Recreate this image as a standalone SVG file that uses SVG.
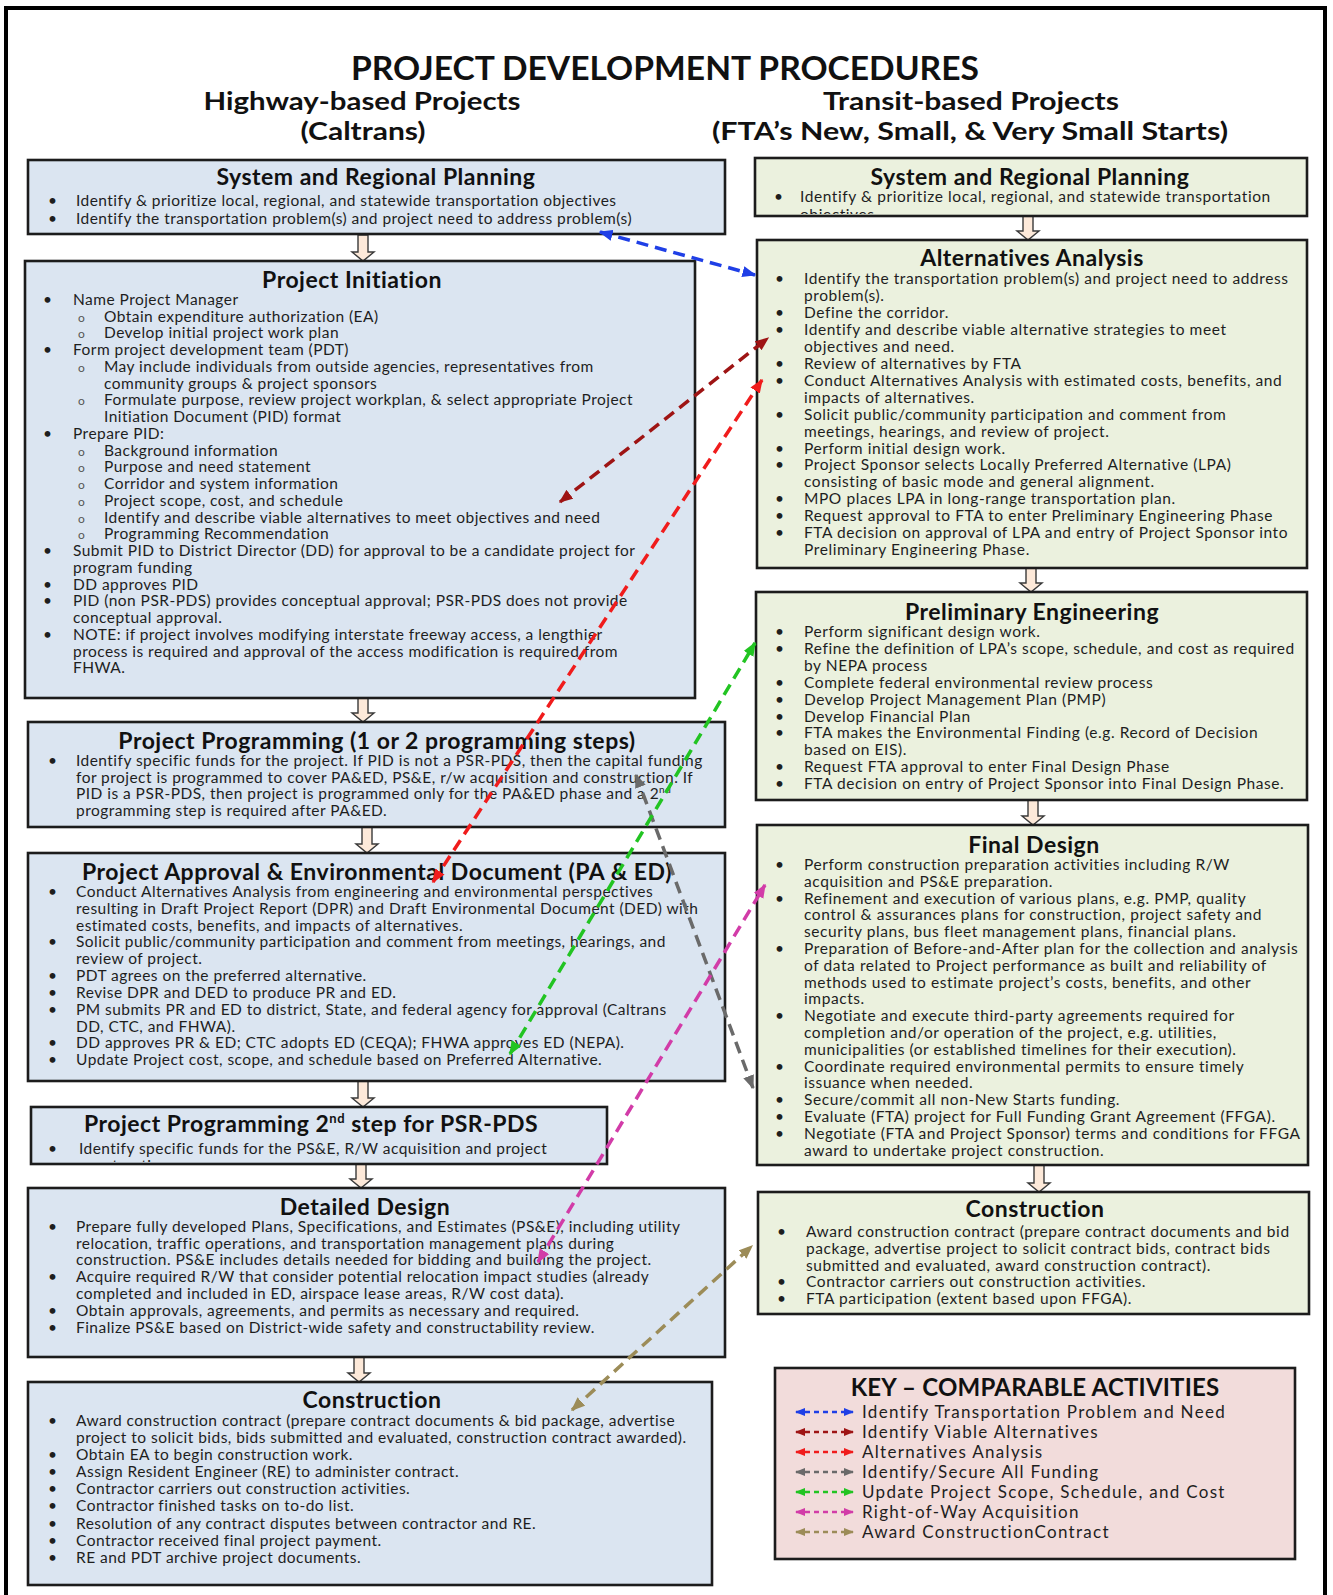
<svg xmlns="http://www.w3.org/2000/svg" width="1333" height="1595" viewBox="0 0 1333 1595">
<style>
.frame{fill:#fff;stroke:#000;stroke-width:4}
.bl{fill:#dbe5f1;stroke:#1c1c1c;stroke-width:2.6}
.gr{fill:#ebf1de;stroke:#1c1c1c;stroke-width:2.6}
.pk{fill:#f2dcdb;stroke:#1c1c1c;stroke-width:2.6}
.dn{fill:#fde9d9;stroke:#3a3a3a;stroke-width:1.4}
text{font-family:Lato,"Liberation Sans",sans-serif;fill:#1e1e1e}
.hd{font-weight:700;fill:#111}
.bt{font-weight:700;font-size:23px;letter-spacing:0.5px;text-anchor:middle;fill:#111}
.l{font-size:15.5px;letter-spacing:0.46px}
.r{font-size:15.5px;letter-spacing:0.58px}
.o{font-size:12px;fill:#555}
.k{font-size:17px;letter-spacing:1.3px}
.c{fill:none;stroke-width:3.5;stroke-dasharray:12 7}
.ck{fill:none;stroke-width:2.6;stroke-dasharray:5 4}
</style>
<defs>
<marker id="mb" viewBox="0 0 10 8" refX="9" refY="4" markerWidth="4" markerHeight="3.4" orient="auto-start-reverse"><path d="M0,0 L10,4 L0,8 z" fill="#1f3fe6"/></marker>
<marker id="mdr" viewBox="0 0 10 8" refX="9" refY="4" markerWidth="4" markerHeight="3.4" orient="auto-start-reverse"><path d="M0,0 L10,4 L0,8 z" fill="#9e1414"/></marker>
<marker id="mr" viewBox="0 0 10 8" refX="9" refY="4" markerWidth="4" markerHeight="3.4" orient="auto-start-reverse"><path d="M0,0 L10,4 L0,8 z" fill="#f01c1c"/></marker>
<marker id="mg" viewBox="0 0 10 8" refX="9" refY="4" markerWidth="4" markerHeight="3.4" orient="auto-start-reverse"><path d="M0,0 L10,4 L0,8 z" fill="#6a6a6a"/></marker>
<marker id="mgn" viewBox="0 0 10 8" refX="9" refY="4" markerWidth="4" markerHeight="3.4" orient="auto-start-reverse"><path d="M0,0 L10,4 L0,8 z" fill="#22c422"/></marker>
<marker id="mm" viewBox="0 0 10 8" refX="9" refY="4" markerWidth="4" markerHeight="3.4" orient="auto-start-reverse"><path d="M0,0 L10,4 L0,8 z" fill="#d23ca8"/></marker>
<marker id="mo" viewBox="0 0 10 8" refX="9" refY="4" markerWidth="4" markerHeight="3.4" orient="auto-start-reverse"><path d="M0,0 L10,4 L0,8 z" fill="#9c8c58"/></marker>
<clipPath id="clipSR"><rect x="756" y="160" width="550" height="54"/></clipPath>
<clipPath id="clipP2"><rect x="32" y="1108" width="574" height="54"/></clipPath>
</defs>

<rect class="frame" x="6" y="8" width="1319" height="1592"/>

<g id="header">
<text class="hd" x="665" y="80" font-size="32" text-anchor="middle" textLength="628" lengthAdjust="spacingAndGlyphs">PROJECT DEVELOPMENT PROCEDURES</text>
<text class="hd" x="362" y="110" font-size="25" text-anchor="middle" textLength="317" lengthAdjust="spacingAndGlyphs">Highway-based Projects</text>
<text class="hd" x="363" y="140" font-size="25" text-anchor="middle" textLength="125" lengthAdjust="spacingAndGlyphs">(Caltrans)</text>
<text class="hd" x="971" y="110" font-size="25" text-anchor="middle" textLength="296" lengthAdjust="spacingAndGlyphs">Transit-based Projects</text>
<text class="hd" x="970" y="140" font-size="25" text-anchor="middle" textLength="516" lengthAdjust="spacingAndGlyphs">(FTA’s New, Small, &amp; Very Small Starts)</text>
</g>

<g id="flow-arrows">
<path class="dn" d="M358,235 H368 V252 H374 L363,261 L352,252 H358 Z"/>
<path class="dn" d="M358,698 H368 V713 H374 L363,722 L352,713 H358 Z"/>
<path class="dn" d="M362,827 H372 V844 H378 L367,853 L356,844 H362 Z"/>
<path class="dn" d="M358,1081 H368 V1098 H374 L363,1107 L352,1098 H358 Z"/>
<path class="dn" d="M356,1164 H366 V1179 H372 L361,1188 L350,1179 H356 Z"/>
<path class="dn" d="M354,1357 H364 V1373 H370 L359,1382 L348,1373 H354 Z"/>
<path class="dn" d="M1023,216 H1033 V231 H1039 L1028,240 L1017,231 H1023 Z"/>
<path class="dn" d="M1026,568 H1036 V583 H1042 L1031,592 L1020,583 H1026 Z"/>
<path class="dn" d="M1028,800 H1038 V816 H1044 L1033,825 L1022,816 H1028 Z"/>
<path class="dn" d="M1034,1165 H1044 V1183 H1050 L1039,1192 L1028,1183 H1034 Z"/>
</g>

<g id="srp-left">
<rect class="bl" x="28" y="160" width="697" height="74"/>
<text class="bt" x="376" y="185">System and Regional Planning</text>
<text class="l" x="48" y="206">•</text><text class="l" x="76" y="206">Identify &amp; prioritize local, regional, and statewide transportation objectives</text>
<text class="l" x="48" y="224">•</text><text class="l" x="76" y="224">Identify the transportation problem(s) and project need to address problem(s)</text>
</g>

<g id="project-initiation">
<rect class="bl" x="25" y="261" width="670" height="437"/>
<text class="bt" x="352" y="288">Project Initiation</text>
<text class="l" x="43" y="305">•</text><text class="l" x="73" y="305">Name Project Manager</text>
<text class="o" x="78" y="322">o</text><text class="l" x="104" y="322">Obtain expenditure authorization (EA)</text>
<text class="o" x="78" y="338">o</text><text class="l" x="104" y="338">Develop initial project work plan</text>
<text class="l" x="43" y="355">•</text><text class="l" x="73" y="355">Form project development team (PDT)</text>
<text class="o" x="78" y="372">o</text><text class="l" x="104" y="372">May include individuals from outside agencies, representatives from</text>
<text class="l" x="104" y="389">community groups &amp; project sponsors</text>
<text class="o" x="78" y="405">o</text><text class="l" x="104" y="405">Formulate purpose, review project workplan, &amp; select appropriate Project</text>
<text class="l" x="104" y="422">Initiation Document (PID) format</text>
<text class="l" x="43" y="439">•</text><text class="l" x="73" y="439">Prepare PID:</text>
<text class="o" x="78" y="456">o</text><text class="l" x="104" y="456">Background information</text>
<text class="o" x="78" y="472">o</text><text class="l" x="104" y="472">Purpose and need statement</text>
<text class="o" x="78" y="489">o</text><text class="l" x="104" y="489">Corridor and system information</text>
<text class="o" x="78" y="506">o</text><text class="l" x="104" y="506">Project scope, cost, and schedule</text>
<text class="o" x="78" y="523">o</text><text class="l" x="104" y="523">Identify and describe viable alternatives to meet objectives and need</text>
<text class="o" x="78" y="539">o</text><text class="l" x="104" y="539">Programming Recommendation</text>
<text class="l" x="43" y="556">•</text><text class="l" x="73" y="556">Submit PID to District Director (DD) for approval to be a candidate project for</text>
<text class="l" x="73" y="573">program funding</text>
<text class="l" x="43" y="590">•</text><text class="l" x="73" y="590">DD approves PID</text>
<text class="l" x="43" y="606">•</text><text class="l" x="73" y="606">PID (non PSR-PDS) provides conceptual approval; PSR-PDS does not provide</text>
<text class="l" x="73" y="623">conceptual approval.</text>
<text class="l" x="43" y="640">•</text><text class="l" x="73" y="640">NOTE: if project involves modifying interstate freeway access, a lengthier</text>
<text class="l" x="73" y="657">process is required and approval of the access modification is required from</text>
<text class="l" x="73" y="673">FHWA.</text>
</g>

<g id="project-programming">
<rect class="bl" x="28" y="722" width="697" height="105"/>
<text class="bt" x="377" y="749">Project Programming (1 or 2 programming steps)</text>
<text class="l" x="48" y="766">•</text><text class="l" x="76" y="766">Identify specific funds for the project.  If PID is not a PSR-PDS, then the capital funding</text>
<text class="l" x="76" y="783">for project is programmed to cover PA&amp;ED, PS&amp;E, r/w acquisition and construction. If</text>
<text class="l" x="76" y="799">PID is a PSR-PDS, then project is programmed only for the PA&amp;ED phase and a 2<tspan font-size="10" dy="-6">nd</tspan></text>
<text class="l" x="76" y="816">programming step is required after PA&amp;ED.</text>
</g>

<g id="pa-ed">
<rect class="bl" x="28" y="853" width="697" height="228"/>
<text class="bt" x="377" y="880">Project Approval &amp; Environmental Document (PA &amp; ED)</text>
<text class="l" x="48" y="897">•</text><text class="l" x="76" y="897">Conduct Alternatives Analysis from engineering and environmental perspectives</text>
<text class="l" x="76" y="914">resulting in Draft Project Report (DPR) and Draft Environmental Document (DED) with</text>
<text class="l" x="76" y="931">estimated costs, benefits, and impacts of alternatives.</text>
<text class="l" x="48" y="947">•</text><text class="l" x="76" y="947">Solicit public/community participation and comment from meetings, hearings, and</text>
<text class="l" x="76" y="964">review of project.</text>
<text class="l" x="48" y="981">•</text><text class="l" x="76" y="981">PDT agrees on the preferred alternative.</text>
<text class="l" x="48" y="998">•</text><text class="l" x="76" y="998">Revise DPR and DED to produce PR and ED.</text>
<text class="l" x="48" y="1015">•</text><text class="l" x="76" y="1015">PM submits PR and ED to district, State, and federal agency for approval (Caltrans</text>
<text class="l" x="76" y="1032">DD, CTC, and FHWA).</text>
<text class="l" x="48" y="1048">•</text><text class="l" x="76" y="1048">DD approves PR &amp; ED; CTC adopts ED (CEQA); FHWA approves ED (NEPA).</text>
<text class="l" x="48" y="1065">•</text><text class="l" x="76" y="1065">Update Project cost, scope, and schedule based on Preferred Alternative.</text>
</g>

<g id="programming-2nd">
<rect class="bl" x="31" y="1107" width="576" height="57"/>
<text class="bt" x="311" y="1132">Project Programming 2<tspan font-size="13" dy="-9">nd</tspan><tspan dy="9"> step for PSR-PDS</tspan></text>
<text class="l" x="48" y="1154">•</text><text class="l" x="79" y="1154">Identify specific funds for the PS&amp;E, R/W acquisition and project</text>
<text class="l" x="79" y="1171" clip-path="url(#clipP2)">construction.</text>
</g>

<g id="detailed-design">
<rect class="bl" x="28" y="1188" width="697" height="169"/>
<text class="bt" x="365" y="1215">Detailed Design</text>
<text class="l" x="48" y="1232">•</text><text class="l" x="76" y="1232">Prepare fully developed Plans, Specifications, and Estimates (PS&amp;E), including utility</text>
<text class="l" x="76" y="1249">relocation, traffic operations, and transportation management plans during</text>
<text class="l" x="76" y="1265">construction.  PS&amp;E includes details needed for bidding and building the project.</text>
<text class="l" x="48" y="1282">•</text><text class="l" x="76" y="1282">Acquire required R/W that consider potential relocation impact studies (already</text>
<text class="l" x="76" y="1299">completed and included in ED, airspace lease areas, R/W cost data).</text>
<text class="l" x="48" y="1316">•</text><text class="l" x="76" y="1316">Obtain approvals, agreements, and permits as necessary and required.</text>
<text class="l" x="48" y="1333">•</text><text class="l" x="76" y="1333">Finalize PS&amp;E based on District-wide safety and constructability review.</text>
</g>

<g id="construction-left">
<rect class="bl" x="28" y="1382" width="684" height="203"/>
<text class="bt" x="372" y="1408">Construction</text>
<text class="l" x="48" y="1426">•</text><text class="l" x="76" y="1426">Award construction contract (prepare contract documents &amp; bid package, advertise</text>
<text class="l" x="76" y="1443">project to solicit bids, bids submitted and evaluated, construction contract awarded).</text>
<text class="l" x="48" y="1460">•</text><text class="l" x="76" y="1460">Obtain EA to begin construction work.</text>
<text class="l" x="48" y="1477">•</text><text class="l" x="76" y="1477">Assign Resident Engineer (RE) to administer contract.</text>
<text class="l" x="48" y="1494">•</text><text class="l" x="76" y="1494">Contractor carriers out construction activities.</text>
<text class="l" x="48" y="1511">•</text><text class="l" x="76" y="1511">Contractor finished tasks on to-do list.</text>
<text class="l" x="48" y="1529">•</text><text class="l" x="76" y="1529">Resolution of any contract disputes between contractor and RE.</text>
<text class="l" x="48" y="1546">•</text><text class="l" x="76" y="1546">Contractor received final project payment.</text>
<text class="l" x="48" y="1563">•</text><text class="l" x="76" y="1563">RE and PDT archive project documents.</text>
</g>

<g id="srp-right">
<rect class="gr" x="755" y="158" width="552" height="58"/>
<text class="bt" x="1030" y="185">System and Regional Planning</text>
<text class="r" x="774" y="202">•</text><text class="r" x="800" y="202">Identify &amp; prioritize local, regional, and statewide transportation</text>
<text class="r" x="800" y="220" clip-path="url(#clipSR)">objectives</text>
</g>

<g id="alternatives-analysis">
<rect class="gr" x="757" y="240" width="550" height="328"/>
<text class="bt" x="1032" y="266">Alternatives Analysis</text>
<text class="r" x="775" y="284">•</text><text class="r" x="804" y="284">Identify the transportation problem(s) and project need to address</text>
<text class="r" x="804" y="301">problem(s).</text>
<text class="r" x="775" y="318">•</text><text class="r" x="804" y="318">Define the corridor.</text>
<text class="r" x="775" y="335">•</text><text class="r" x="804" y="335">Identify and describe viable alternative strategies to meet</text>
<text class="r" x="804" y="352">objectives and need.</text>
<text class="r" x="775" y="369">•</text><text class="r" x="804" y="369">Review of alternatives by FTA</text>
<text class="r" x="775" y="386">•</text><text class="r" x="804" y="386">Conduct Alternatives Analysis with estimated costs, benefits, and</text>
<text class="r" x="804" y="403">impacts of alternatives.</text>
<text class="r" x="775" y="420">•</text><text class="r" x="804" y="420">Solicit public/community participation and comment from</text>
<text class="r" x="804" y="437">meetings, hearings, and review of project.</text>
<text class="r" x="775" y="454">•</text><text class="r" x="804" y="454">Perform initial design work.</text>
<text class="r" x="775" y="470">•</text><text class="r" x="804" y="470">Project Sponsor selects Locally Preferred Alternative (LPA)</text>
<text class="r" x="804" y="487">consisting of basic mode and general alignment.</text>
<text class="r" x="775" y="504">•</text><text class="r" x="804" y="504">MPO places LPA in long-range transportation plan.</text>
<text class="r" x="775" y="521">•</text><text class="r" x="804" y="521">Request approval to FTA to enter Preliminary Engineering Phase</text>
<text class="r" x="775" y="538">•</text><text class="r" x="804" y="538">FTA decision on approval of LPA and entry of Project Sponsor into</text>
<text class="r" x="804" y="555">Preliminary Engineering Phase.</text>
</g>

<g id="preliminary-engineering">
<rect class="gr" x="756" y="592" width="551" height="208"/>
<text class="bt" x="1032" y="620">Preliminary Engineering</text>
<text class="r" x="775" y="637">•</text><text class="r" x="804" y="637">Perform significant design work.</text>
<text class="r" x="775" y="654">•</text><text class="r" x="804" y="654">Refine the definition of LPA’s scope, schedule, and cost as required</text>
<text class="r" x="804" y="671">by NEPA process</text>
<text class="r" x="775" y="688">•</text><text class="r" x="804" y="688">Complete federal environmental review process</text>
<text class="r" x="775" y="705">•</text><text class="r" x="804" y="705">Develop Project Management Plan (PMP)</text>
<text class="r" x="775" y="722">•</text><text class="r" x="804" y="722">Develop Financial Plan</text>
<text class="r" x="775" y="738">•</text><text class="r" x="804" y="738">FTA makes the Environmental Finding (e.g. Record of Decision</text>
<text class="r" x="804" y="755">based on EIS).</text>
<text class="r" x="775" y="772">•</text><text class="r" x="804" y="772">Request FTA approval to enter Final Design Phase</text>
<text class="r" x="775" y="789">•</text><text class="r" x="804" y="789">FTA decision on entry of Project Sponsor into Final Design Phase.</text>
</g>

<g id="final-design">
<rect class="gr" x="757" y="825" width="551" height="340"/>
<text class="bt" x="1034" y="853">Final Design</text>
<text class="r" x="775" y="870">•</text><text class="r" x="804" y="870">Perform construction preparation activities including R/W</text>
<text class="r" x="804" y="887">acquisition and PS&amp;E preparation.</text>
<text class="r" x="775" y="904">•</text><text class="r" x="804" y="904">Refinement and execution of various plans, e.g. PMP, quality</text>
<text class="r" x="804" y="920">control &amp; assurances plans for construction, project safety and</text>
<text class="r" x="804" y="937">security plans, bus fleet management plans, financial plans.</text>
<text class="r" x="775" y="954">•</text><text class="r" x="804" y="954">Preparation of Before-and-After plan for the collection and analysis</text>
<text class="r" x="804" y="971">of data related to Project performance as built and reliability of</text>
<text class="r" x="804" y="988">methods used to estimate project’s costs, benefits, and other</text>
<text class="r" x="804" y="1004">impacts.</text>
<text class="r" x="775" y="1021">•</text><text class="r" x="804" y="1021">Negotiate and execute third-party agreements required for</text>
<text class="r" x="804" y="1038">completion and/or operation of the project, e.g. utilities,</text>
<text class="r" x="804" y="1055">municipalities (or established timelines for their execution).</text>
<text class="r" x="775" y="1072">•</text><text class="r" x="804" y="1072">Coordinate required environmental permits to ensure timely</text>
<text class="r" x="804" y="1088">issuance when needed.</text>
<text class="r" x="775" y="1105">•</text><text class="r" x="804" y="1105">Secure/commit all non-New Starts funding.</text>
<text class="r" x="775" y="1122">•</text><text class="r" x="804" y="1122">Evaluate (FTA) project for Full Funding Grant Agreement (FFGA).</text>
<text class="r" x="775" y="1139">•</text><text class="r" x="804" y="1139">Negotiate (FTA and Project Sponsor) terms and conditions for FFGA</text>
<text class="r" x="804" y="1156">award to undertake project construction.</text>
</g>

<g id="construction-right">
<rect class="gr" x="758" y="1192" width="551" height="122"/>
<text class="bt" x="1035" y="1217">Construction</text>
<text class="r" x="777" y="1237">•</text><text class="r" x="806" y="1237">Award construction contract (prepare contract documents and bid</text>
<text class="r" x="806" y="1254">package, advertise project to solicit contract bids, contract bids</text>
<text class="r" x="806" y="1271">submitted and evaluated, award construction contract).</text>
<text class="r" x="777" y="1287">•</text><text class="r" x="806" y="1287">Contractor carriers out construction activities.</text>
<text class="r" x="777" y="1304">•</text><text class="r" x="806" y="1304">FTA participation (extent based upon FFGA).</text>
</g>

<g id="key">
<rect class="pk" x="775" y="1368" width="520" height="191"/>
<text class="hd" x="1035" y="1396" font-size="24" letter-spacing="0.2" text-anchor="middle">KEY – COMPARABLE ACTIVITIES</text>
<line class="ck" x1="796" y1="1412" x2="853" y2="1412" stroke="#1f3fe6" marker-start="url(#mb)" marker-end="url(#mb)"/>
<text class="k" x="862" y="1418">Identify Transportation Problem and Need</text>
<line class="ck" x1="796" y1="1432" x2="853" y2="1432" stroke="#9e1414" marker-start="url(#mdr)" marker-end="url(#mdr)"/>
<text class="k" x="862" y="1438">Identify Viable Alternatives</text>
<line class="ck" x1="796" y1="1452" x2="853" y2="1452" stroke="#f01c1c" marker-start="url(#mr)" marker-end="url(#mr)"/>
<text class="k" x="862" y="1458">Alternatives Analysis</text>
<line class="ck" x1="796" y1="1472" x2="853" y2="1472" stroke="#6a6a6a" marker-start="url(#mg)" marker-end="url(#mg)"/>
<text class="k" x="862" y="1478">Identify/Secure All Funding</text>
<line class="ck" x1="796" y1="1492" x2="853" y2="1492" stroke="#22c422" marker-start="url(#mgn)" marker-end="url(#mgn)"/>
<text class="k" x="862" y="1498">Update Project Scope, Schedule, and Cost</text>
<line class="ck" x1="796" y1="1512" x2="853" y2="1512" stroke="#d23ca8" marker-start="url(#mm)" marker-end="url(#mm)"/>
<text class="k" x="862" y="1518">Right-of-Way Acquisition</text>
<line class="ck" x1="796" y1="1532" x2="853" y2="1532" stroke="#9c8c58" marker-start="url(#mo)" marker-end="url(#mo)"/>
<text class="k" x="862" y="1538">Award ConstructionContract</text>
</g>

<g id="connectors">
<line class="c" x1="600" y1="232" x2="755" y2="275" stroke="#1f3fe6" marker-start="url(#mb)" marker-end="url(#mb)"/>
<line class="c" x1="560" y1="502" x2="768" y2="338" stroke="#9e1414" marker-start="url(#mdr)" marker-end="url(#mdr)"/>
<line class="c" x1="433" y1="882" x2="762" y2="380" stroke="#f01c1c" marker-start="url(#mr)" marker-end="url(#mr)"/>
<line class="c" x1="636" y1="775" x2="753" y2="1088" stroke="#6a6a6a" marker-start="url(#mg)" marker-end="url(#mg)"/>
<line class="c" x1="510" y1="1054" x2="755" y2="643" stroke="#22c422" marker-start="url(#mgn)" marker-end="url(#mgn)"/>
<line class="c" x1="538" y1="1262" x2="765" y2="885" stroke="#d23ca8" marker-start="url(#mm)" marker-end="url(#mm)"/>
<line class="c" x1="572" y1="1410" x2="752" y2="1246" stroke="#9c8c58" marker-start="url(#mo)" marker-end="url(#mo)"/>
</g>
</svg>
